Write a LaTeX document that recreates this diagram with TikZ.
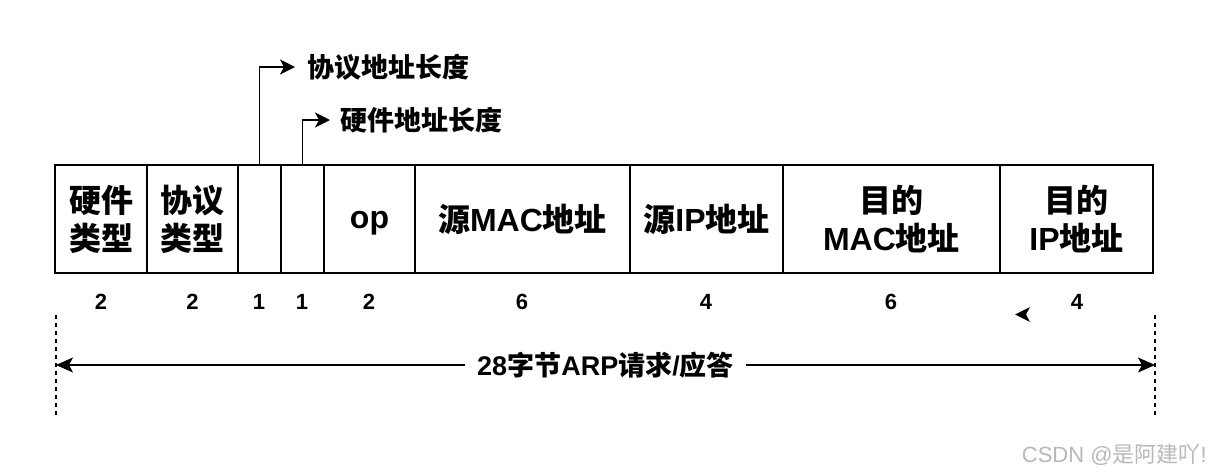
\documentclass[tikz,border=0pt]{standalone}
\usepackage{fontspec}
\setmainfont{Liberation Sans}
\newfontfamily\cjkb{Noto Sans CJK SC Bold}
\newfontfamily\cjkr{Noto Sans CJK SC}
\usetikzlibrary{arrows.meta}
\newcommand\zh[1]{{\cjkb #1}}
\begin{document}
\begin{tikzpicture}[x=1pt,y=-1pt,
  field/.style={draw, line width=1.6pt, minimum height=108pt, inner sep=0pt, align=center,
    font=\bfseries\fontsize{32}{38}\selectfont},
  num/.style={font=\bfseries\fontsize{22}{26}\selectfont, inner sep=0pt},
  lab/.style={font=\bfseries\fontsize{27}{31}\selectfont},
  tipA/.style={-{Stealth[length=15pt,width=15pt,inset=4pt]}},
  arr/.style={line width=1.6pt, tipA},
  dimline/.style={line width=1.4pt, dash pattern=on 4pt off 4pt}]
\useasboundingbox (0,0) rectangle (1210,474);
\fill[white] (0,0) rectangle (1210,474);

% fields
\node[field, minimum width=92pt]  (f1) at (101,219)   {\zh{硬件}\\\zh{类型}};
\node[field, minimum width=91pt]  (f2) at (192.5,219) {\zh{协议}\\\zh{类型}};
\node[field, minimum width=43pt]  (f3) at (259.5,219) {};
\node[field, minimum width=43pt]  (f4) at (302.5,219) {};
\node[field, minimum width=91pt]  (f5) at (369.5,219) {\raisebox{-9pt}[0pt][0pt]{op}};
\node[field, minimum width=215pt] (f6) at (522.5,219) {\zh{源}MAC\zh{地址}};
\node[field, minimum width=153pt] (f7) at (706.5,219) {\zh{源}IP\zh{地址}};
\node[field, minimum width=217pt] (f8) at (891.5,219) {\zh{目的}\\MAC\zh{地址}};
\node[field, minimum width=153pt] (f9) at (1076.5,219) {\zh{目的}\\IP\zh{地址}};

% top labels
\node[lab, anchor=west, inner sep=0pt] (l1) at (307,67) {\zh{协议地址长度}};
\node[lab, anchor=west, inner sep=0pt] (l2) at (340,120) {\zh{硬件地址长度}};
\draw[arr] (f3.north) |- ([xshift=-12pt]l1.west);
\draw[arr] (f4.north) |- ([xshift=-10pt]l2.west);

% sizes
\node[num] (n1) at (101,302)   {2};
\node[num] (n2) at (192.5,302) {2};
\node[num] (n3) at (259,302)   {1};
\node[num] (n4) at (302,302)   {1};
\node[num] (n5) at (369,302)   {2};
\node[num] (n6) at (522,302)   {6};
\node[num] (n7) at (706,302)   {4};
\node[num] (n8) at (891,302)   {6};
\node[num] (n9) at (1077,302)  {4};

% stray arrowhead
\fill (1015,314.5) -- (1030,307) -- (1026,314.5) -- (1030,322) -- cycle;

% total span
\coordinate (dlt) at (56,315);
\coordinate (dlb) at (56,418);
\coordinate (drt) at (1155,315);
\coordinate (drb) at (1155,418);
\draw[dimline] (dlt) -- (dlb);
\draw[dimline] (drt) -- (drb);
\coordinate (hl) at (56,365);
\coordinate (hr) at (1155,365);
\draw[line width=1.4pt, {Stealth[length=17pt,width=15pt,inset=4pt]}-{Stealth[length=17pt,width=15pt,inset=4pt]}]
  (hl) -- (hr) node[midway, lab, fill=white, inner xsep=12pt, inner ysep=2pt] (tot) {28\zh{字节}ARP\zh{请求}/\zh{应答}};

% watermark
\node[anchor=east, inner sep=0pt, text=black!28, font=\fontsize{22}{24}\selectfont] (wm) at (1207,455) {CSDN @{\cjkr 是阿建吖}!};
\end{tikzpicture}
\end{document}
